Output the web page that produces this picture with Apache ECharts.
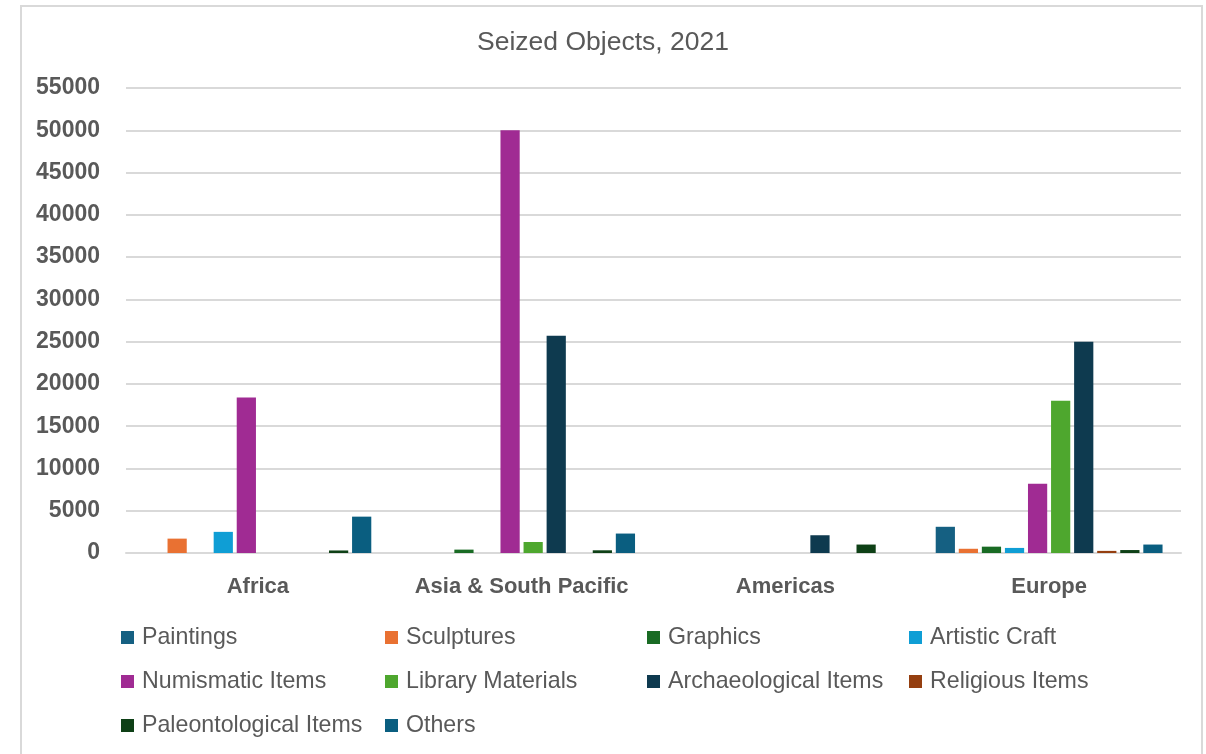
<!DOCTYPE html>
<html>
<head>
<meta charset="utf-8">
<script src="https://cdn.jsdelivr.net/npm/echarts@6/dist/echarts.min.js"></script>
<style>
html,body{margin:0;padding:0;background:#fff;}
#chart{width:1206px;height:754px;}
</style>
</head>
<body>
<div id="chart"></div>
<script>
const categories = ['Africa', 'Asia & South Pacific', 'Americas', 'Europe'];
const seriesNames = ['Paintings', 'Sculptures', 'Graphics', 'Artistic Craft', 'Numismatic Items', 'Library Materials', 'Archaeological Items', 'Religious Items', 'Paleontological Items', 'Others'];
const paintings = [0, 0, 0, 3100];
const sculptures = [1700, 0, 0, 500];
const graphics = [0, 400, 0, 750];
const artisticCraft = [2500, 0, 0, 600];
const numismaticItems = [18400, 50000, 0, 8200];
const libraryMaterials = [0, 1300, 0, 18000];
const archaeologicalItems = [0, 25700, 2100, 25000];
const religiousItems = [0, 0, 0, 250];
const paleontologicalItems = [300, 320, 1000, 350];
const others = [4300, 2300, 0, 1000];
const yTicks = [0, 5000, 10000, 15000, 20000, 25000, 30000, 35000, 40000, 45000, 50000, 55000];

const allValues = [paintings, sculptures, graphics, artisticCraft, numismaticItems, libraryMaterials, archaeologicalItems, religiousItems, paleontologicalItems, others];
const colors = ['#156082', '#E97132', '#196B24', '#0F9ED5', '#A02B93', '#4EA72E', '#0E3A4F', '#953F10', '#0E4016', '#0A5E80'];

const FONT = '"Liberation Sans", Arial, sans-serif';
const legendCols = [
  [seriesNames[0], seriesNames[4], seriesNames[8]],
  [seriesNames[1], seriesNames[5], seriesNames[9]],
  [seriesNames[2], seriesNames[6]],
  [seriesNames[3], seriesNames[7]]
];
const legendLeft = [121, 385, 647, 909];

const chart = echarts.init(document.getElementById('chart'), null, {renderer: 'canvas'});
chart.setOption({
  backgroundColor: '#ffffff',
  animation: false,
  color: colors,
  graphic: [{
    type: 'rect',
    shape: {x: 21, y: 6, width: 1181, height: 800},
    style: {fill: 'none', stroke: '#d9d9d9', lineWidth: 2},
    silent: true
  }],
  title: {
    text: 'Seized Objects, 2021',
    left: 'center',
    top: 29,
    padding: 0,
    textStyle: {fontFamily: FONT, fontSize: 26.5, fontWeight: 'normal', color: '#595959'}
  },
  legend: legendCols.map((col, i) => ({
    data: col,
    orient: 'vertical',
    left: legendLeft[i],
    top: 626,
    padding: 0,
    itemWidth: 13,
    itemHeight: 13,
    itemGap: 21,
    icon: 'rect',
    selectedMode: false,
    textStyle: {fontFamily: FONT, fontSize: 23.2, color: '#595959', lineHeight: 22, padding: [0, 0, 0, 3]}
  })),
  grid: {left: 126, right: 25, top: 88, bottom: 201, containLabel: false},
  xAxis: {
    type: 'category',
    data: categories,
    axisLine: {show: true, lineStyle: {color: '#d9d9d9', width: 2}},
    axisTick: {show: false},
    axisLabel: {interval: 0, fontFamily: FONT, fontSize: 22, fontWeight: 'bold', color: '#595959', margin: 23}
  },
  yAxis: {
    type: 'value',
    min: yTicks[0],
    max: yTicks[yTicks.length - 1],
    interval: yTicks[1] - yTicks[0],
    axisLine: {show: false},
    axisTick: {show: false},
    splitLine: {lineStyle: {color: '#d9d9d9', width: 2}},
    axisLabel: {formatter: v => String(v), fontFamily: FONT, fontSize: 23, fontWeight: 'bold', color: '#595959', margin: 26}
  },
  series: seriesNames.map((name, i) => ({
    name: name,
    type: 'bar',
    data: allValues[i],
    barGap: '20%',
    barCategoryGap: '14%',
    itemStyle: {color: colors[i]}
  }))
});
</script>
</body>
</html>
